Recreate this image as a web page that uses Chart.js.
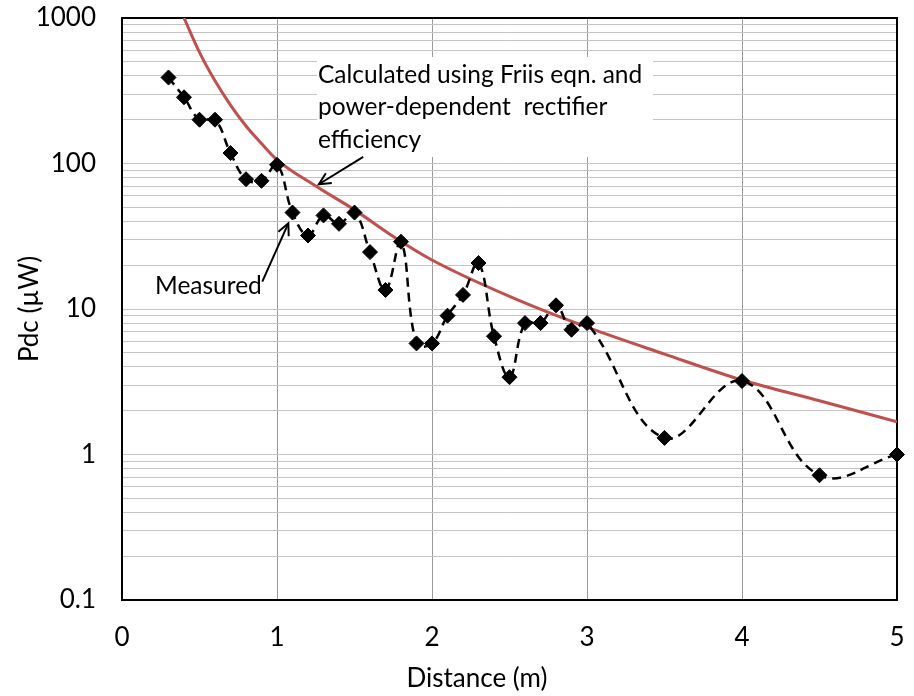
<!DOCTYPE html>
<html><head><meta charset="utf-8">
<script src="https://cdn.jsdelivr.net/npm/chart.js@4"></script>
<style>html,body{margin:0;padding:0;background:#fff}#wrap{width:914px;height:696px;position:relative}</style>
</head><body><div id="wrap"><canvas id="c"></canvas></div>
<script>
// ---- data ----
const distances   = [0.3,0.4,0.5,0.6,0.7,0.8,0.9,1.0,1.1,1.2,1.3,1.4,1.5,1.6,1.7,1.8,1.9,2.0,2.1,2.2,2.3,2.4,2.5,2.6,2.7,2.8,2.9,3.0,3.5,4.0,4.5,5.0];
const measuredPdc = [390,285,200,200,118,78,76,98,46,32,44,38.5,46,24.6,13.5,29,5.8,5.8,9.0,12.5,20.7,6.5,3.4,8.0,8.0,10.6,7.2,8.0,1.3,3.2,0.72,1.0];
const calcDistances = [0.4,0.5,0.6,0.7,0.8,0.9,1.0,1.25,1.5,1.75,2.0,2.5,3.0,3.5,4.0,4.5,5.0];
const calcPdc       = [1000,580,370,252,181,137,106,70,48,31.5,21.7,12.2,7.5,4.9,3.25,2.34,1.68];
const xTickValues = [0,1,2,3,4,5];
const yTickLabels = ['0.1','1','10','100','1000'];
const xTitle = 'Distance (m)';
const yTitle = 'Pdc (\u00B5W)';
const calcNote = ['Calculated using Friis eqn. and','power-dependent  rectifier','efficiency'];
const measNote = 'Measured';

// ---- annotation anchors (data units) ----
const noteBox = {x0:1.258, x1:3.426, yTop:540, yBot:111};
const calcArrow = {from:[1.556,111], to:[1.27,72]};
const measArrow = {from:[0.905,15.4], to:[1.073,38.8]};
const measLabelAt = [0.213,14.4];
const xTitleAt = 2.29;

const yDecades = yTickLabels.map(Number);
const yGridValues = [];
for (let i=0;i<yDecades.length-1;i++){ for(let k=1;k<=9;k++) yGridValues.push(+(yDecades[i]*k).toPrecision(3)); }
yGridValues.push(yDecades[yDecades.length-1]);

const FONT = 'Lato';

function arrow(ctx, x1,y1,x2,y2){
  ctx.save();
  ctx.strokeStyle='#000'; ctx.lineWidth=2;
  ctx.beginPath(); ctx.moveTo(x1,y1); ctx.lineTo(x2,y2); ctx.stroke();
  const a=Math.atan2(y2-y1,x2-x1), L=13, s=0.45;
  ctx.beginPath();
  ctx.moveTo(x2-L*Math.cos(a-s), y2-L*Math.sin(a-s));
  ctx.lineTo(x2,y2);
  ctx.lineTo(x2-L*Math.cos(a+s), y2-L*Math.sin(a+s));
  ctx.stroke();
  ctx.restore();
}

const annot = {
  id:'annot',
  beforeDatasetsDraw(chart){
    const {ctx, chartArea:ca, scales:{x,y}} = chart;
    ctx.save();
    const bx0=x.getPixelForValue(noteBox.x0), bx1=x.getPixelForValue(noteBox.x1);
    const by0=y.getPixelForValue(noteBox.yTop), by1=y.getPixelForValue(noteBox.yBot);
    ctx.fillStyle='#fff'; ctx.fillRect(bx0,by0,bx1-bx0,by1-by0);
    ctx.strokeStyle='#000'; ctx.lineWidth=2;
    ctx.strokeRect(ca.left,ca.top,ca.right-ca.left,ca.bottom-ca.top);
    ctx.restore();
  },
  afterDatasetsDraw(chart){
    const {ctx, scales:{x,y}} = chart;
    const bx0=x.getPixelForValue(noteBox.x0), by0=y.getPixelForValue(noteBox.yTop);
    ctx.save();
    ctx.fillStyle='#000'; ctx.font='24.5px '+FONT; ctx.textBaseline='middle'; ctx.textAlign='left';
    calcNote.forEach((t,i)=>ctx.fillText(t,bx0+1,by0+18+i*32.5));
    ctx.fillText(measNote, x.getPixelForValue(measLabelAt[0]), y.getPixelForValue(measLabelAt[1]));
    arrow(ctx, x.getPixelForValue(calcArrow.from[0]), y.getPixelForValue(calcArrow.from[1]),
               x.getPixelForValue(calcArrow.to[0]), y.getPixelForValue(calcArrow.to[1]));
    arrow(ctx, x.getPixelForValue(measArrow.from[0]), y.getPixelForValue(measArrow.from[1]),
               x.getPixelForValue(measArrow.to[0]), y.getPixelForValue(measArrow.to[1]));
    // x axis title (offset left of the plot centre, as in the original)
    ctx.font='26px '+FONT; ctx.textAlign='center'; ctx.textBaseline='middle';
    ctx.fillText(xTitle, x.getPixelForValue(xTitleAt), chart.height-17);
    ctx.restore();
  }
};

new Chart(document.getElementById('c'), {
  type:'line',
  data:{
    datasets:[
      { label:'Calculated', data: calcDistances.map((d,i)=>({x:d,y:calcPdc[i]})),
        borderColor:'#C0504D', borderWidth:3, pointRadius:0, cubicInterpolationMode:'monotone', fill:false, order:2 },
      { label:'Measured', data: distances.map((d,i)=>({x:d,y:measuredPdc[i]})),
        borderColor:'#000', borderWidth:2.5, borderDash:[9,6], tension:0.4, clip:false,
        pointStyle:'rectRot', pointRadius:7.5, pointBackgroundColor:'#000', pointBorderColor:'#000', pointBorderWidth:1, fill:false, order:1 }
    ]
  },
  options:{
    responsive:true, maintainAspectRatio:false, animation:false, devicePixelRatio:1,
    layout:{autoPadding:false, padding:{left:0,right:17,top:18,bottom:0}},
    plugins:{legend:{display:false}, tooltip:{enabled:false}},
    scales:{
      x:{ type:'linear', min:0, max:5,
        afterBuildTicks(s){ s.ticks = xTickValues.map(v=>({value:v})); },
        afterFit(s){ s.height = 96; s.paddingLeft = 0; s.paddingRight = 0; },
        grid:{ drawTicks:false, color:(c)=> (c.tick && (c.tick.value===0||c.tick.value===5)) ? 'rgba(0,0,0,0)' : '#9a9a9a', lineWidth:1 },
        border:{display:false},
        ticks:{ padding:22, color:'#000', font:{family:FONT,size:26}, autoSkip:false, maxRotation:0 },
        title:{ display:false, text:xTitle }
      },
      y:{ type:'logarithmic', min:0.1, max:1000,
        afterBuildTicks(s){ s.ticks = yGridValues.map(v=>({value:v})); },
        afterFit(s){ s.width = 122; s.paddingTop = 0; s.paddingBottom = 0; },
        grid:{ drawTicks:false, color:(c)=> (c.tick && (c.tick.value===0.1||c.tick.value===1000)) ? 'rgba(0,0,0,0)' : '#c4c4c4', lineWidth:1 },
        border:{display:false},
        ticks:{ padding:26, color:'#000', font:{family:FONT,size:26}, autoSkip:false,
          callback:(v)=>{ const i=yDecades.findIndex(d=>Math.abs(d-v)<1e-9*Math.max(1,d)); return i>=0? yTickLabels[i] : ''; } },
        title:{ display:true, text:yTitle, color:'#000', font:{family:FONT,size:26}, padding:{top:14,bottom:0} }
      }
    }
  },
  plugins:[annot]
});
</script></body></html>
